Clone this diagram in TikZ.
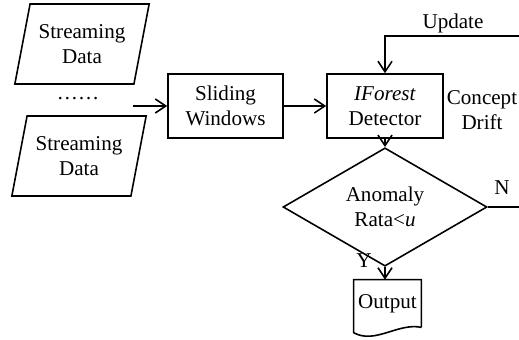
\documentclass[tikz,border=0pt]{standalone}
\usepackage{fontspec}
\setmainfont{Liberation Serif}
\usepackage{tikz}
\usetikzlibrary{positioning,shapes.geometric,arrows.meta}
\tikzstyle{flowChart} = [x = .2mm, y = -.2mm, font=\fontsize{12}{14.2}\selectfont]
\tikzstyle{lineStyle} = [color=black, line width=.9pt]
\tikzstyle{arrowStyle} = [lineStyle, -{Straight Barb[length=6pt, width=8pt]}]
\tikzstyle{boxStyle} = [draw, lineStyle, minimum width=23mm, minimum height=12.8mm, align=center, inner sep=0pt]
\tikzstyle{streamStyle} = [draw, lineStyle, trapezium, trapezium left angle=72, trapezium right angle=108, trapezium stretches=true, minimum width=27mm, minimum height=16mm, align=center, inner sep=0pt]
\tikzstyle{decisionStyle} = [draw, lineStyle, diamond, minimum width=40.8mm, minimum height=20mm, align=center, inner sep=0pt]
\tikzstyle{outputStyle} = [minimum width=13.4mm, minimum height=9.4mm, inner sep=0pt]
\tikzstyle{labelText} = [inner sep=0pt, align=center]
\newcommand{\documentOutline}[1]{\draw [lineStyle] (#1.south east) -- (#1.north east) -- (#1.north west) -- ++(0,53) .. controls +(21,12) and +(-23,-5) .. (#1.south east);}

\begin{document}
\begin{tikzpicture}[flowChart]
  \useasboundingbox (0,0) rectangle (519,339);
  % inputs
  \node [streamStyle] (dataTop) at (82,44) {Streaming\\Data};
  \node [labelText] (dots) at (78,99) {……};
  \node [streamStyle] (dataBottom) at (79,156) {Streaming\\Data};
  \coordinate (inStart) at (133,106);

  % main chain
  \node [boxStyle] (slide) at (225.5,106) {Sliding\\Windows};
  \node [boxStyle, minimum width=23.2mm] (detector) at (385,106) {\textit{IForest}\\Detector};
  \node [decisionStyle] (decision) at (385,207) {Anomaly\\Rata<\textit{u}};
  \node [outputStyle] (output) at (387.5,303.5) {Output};
  \documentOutline{output}

  \draw [arrowStyle] (inStart) -- (slide);
  \draw [arrowStyle] (slide) -- (detector);
  \draw [arrowStyle] (detector) -- (decision);
  \draw [arrowStyle] (decision.south) -- (decision.south |- output.north);

  % feedback
  \coordinate (updateEnd) at (519,36);
  \coordinate (noEnd) at (519,207);
  \draw [arrowStyle] (updateEnd) -| (detector);
  \draw [lineStyle] (decision) -- (noEnd);
  \node [labelText] (update) at (453,23) {Update};
  \node [labelText] (drift) at (482,110) {Concept\\Drift};
  \node [labelText] (no) at (502,188) {N};
  \node [labelText] (yes) at (364,261) {Y};
\end{tikzpicture}
\end{document}
